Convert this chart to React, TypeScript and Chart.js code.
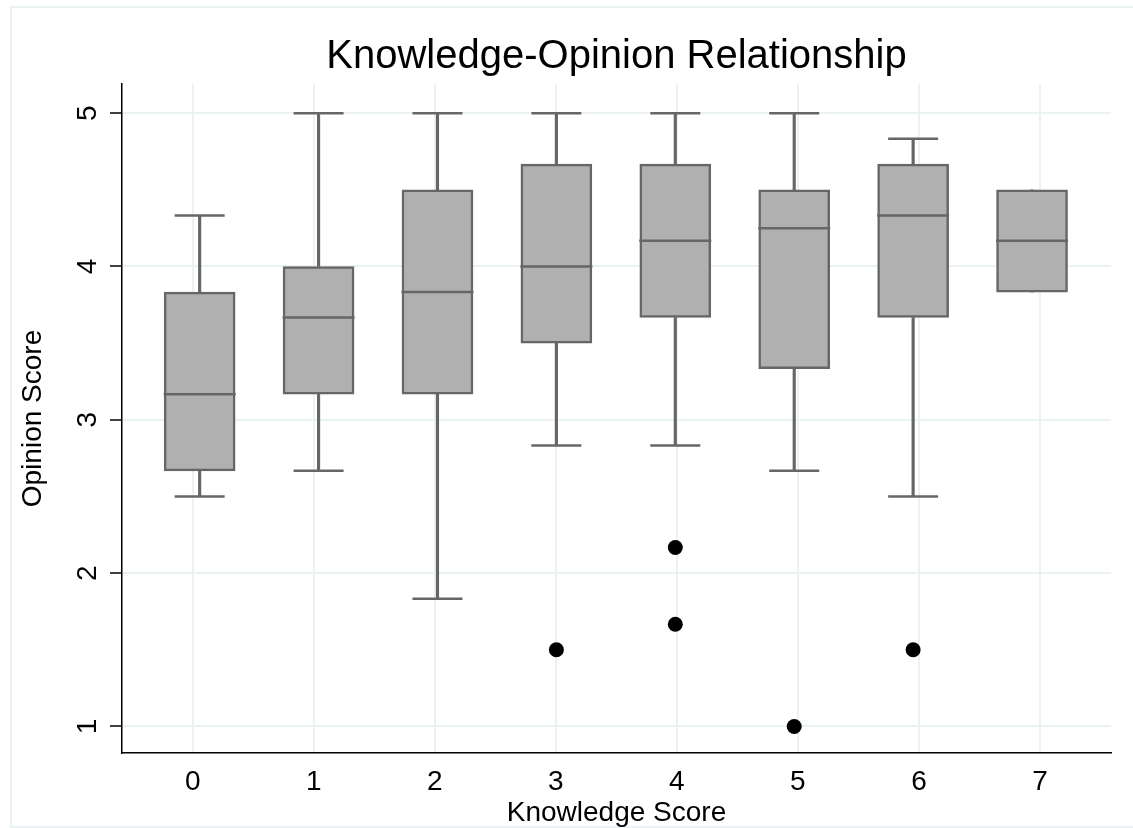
import React, { useEffect, useRef } from "react";
import { Chart, registerables } from "chart.js";

Chart.register(...registerables);

// ---- data ----
const categories = [0, 1, 2, 3, 4, 5, 6, 7];
const xTickValues = [0, 1, 2, 3, 4, 5, 6, 7];
const yTickValues = [1, 2, 3, 4, 5];
const whiskerLow = [2.5, 2.667, 1.833, 2.833, 2.833, 2.667, 2.5, 3.833];
const q1 = [2.667, 3.167, 3.167, 3.5, 3.667, 3.333, 3.667, 3.833];
const median = [3.167, 3.667, 3.833, 4.0, 4.167, 4.25, 4.333, 4.167];
const q3 = [3.833, 4.0, 4.5, 4.667, 4.667, 4.5, 4.667, 4.5];
const whiskerHigh = [4.333, 5, 5, 5, 5, 5, 4.833, 4.5];
const outlierGroup = [3, 4, 4, 5, 6];
const outlierValue = [1.5, 2.167, 1.667, 1.0, 1.5];

const FONT = "'Liberation Sans', Arial, Helvetica, sans-serif";
const GRID = "#eaf2f3";
const BOX_LINE = "#666666";
const BOX_FILL = "#b0b0b0";

export default function App() {
  const ref = useRef<HTMLCanvasElement | null>(null);

  useEffect(() => {
    if (!ref.current) return;
    const caps: { x: number; y: number }[] = [];
    categories.forEach((c, i) => {
      if (whiskerLow[i] !== q1[i]) caps.push({ x: i, y: whiskerLow[i] });
      if (whiskerHigh[i] !== q3[i]) caps.push({ x: i, y: whiskerHigh[i] });
    });
    const chart = new Chart(ref.current, {
      type: "bar",
      data: {
        datasets: [
          {
            type: "scatter",
            xAxisID: "xb",
            yAxisID: "y",
            data: outlierGroup.map((g, i) => ({ x: g, y: outlierValue[i] })),
            pointRadius: 7.5,
            pointBackgroundColor: "#000",
            pointBorderColor: "#000",
            pointBorderWidth: 0,
          } as any,
          {
            type: "scatter",
            xAxisID: "xb",
            yAxisID: "y",
            data: categories.map((c, i) => ({ x: i, y: median[i] })),
            pointStyle: "line",
            pointRadius: 36,
            pointBorderColor: BOX_LINE,
            pointBorderWidth: 2.5,
          } as any,
          {
            type: "scatter",
            xAxisID: "xb",
            yAxisID: "y",
            data: caps,
            pointStyle: "line",
            pointRadius: 25,
            pointBorderColor: BOX_LINE,
            pointBorderWidth: 2.5,
          } as any,
          {
            type: "bar",
            xAxisID: "xb",
            yAxisID: "y",
            data: categories.map((c, i) => ({ x: i, y: [q1[i], q3[i]] })),
            backgroundColor: BOX_FILL,
            borderColor: BOX_LINE,
            borderWidth: 2.5,
            borderSkipped: false,
            barThickness: 71,
            grouped: false,
          } as any,
          {
            type: "bar",
            xAxisID: "xb",
            yAxisID: "y",
            data: categories.map((c, i) => ({ x: i, y: [q3[i], whiskerHigh[i]] })),
            backgroundColor: BOX_LINE,
            borderWidth: 0,
            barThickness: 2.5,
            grouped: false,
          } as any,
          {
            type: "bar",
            xAxisID: "xb",
            yAxisID: "y",
            data: categories.map((c, i) => ({ x: i, y: [whiskerLow[i], q1[i]] })),
            backgroundColor: BOX_LINE,
            borderWidth: 0,
            barThickness: 2.5,
            grouped: false,
          } as any,
        ],
      },
      options: {
        animation: false,
        responsive: false,
        maintainAspectRatio: false,
        events: [],
        layout: { autoPadding: false, padding: { left: 0, right: 22, top: 0, bottom: 0 } },
        plugins: {
          legend: { display: false },
          tooltip: { enabled: false },
          title: {
            display: true,
            fullSize: false,
            text: "Knowledge-Opinion Relationship",
            color: "#000",
            font: { family: FONT, size: 40, weight: "normal", lineHeight: 1.1 },
            padding: { top: 35, bottom: 5 },
          },
        },
        scales: {
          x: {
            type: "linear",
            position: "bottom",
            min: -0.584,
            max: 7.587,
            offset: false,
            afterBuildTicks: (s: any) => {
              s.ticks = xTickValues.map((v) => ({ value: v }));
            },
            afterFit: (s: any) => {
              s.height = 75;
              s.paddingLeft = 0;
              s.paddingRight = 0;
            },
            ticks: {
              color: "#000",
              font: { family: FONT, size: 28, lineHeight: 1.2 },
              padding: 12,
              maxRotation: 0,
              minRotation: 0,
              autoSkip: false,
              callback: (v: any) => String(v),
            },
            grid: { color: GRID, lineWidth: 2, drawTicks: false, offset: false },
            border: { color: "#000", width: 1.5 },
            title: {
              display: true,
              text: "Knowledge Score",
              color: "#000",
              font: { family: FONT, size: 28, lineHeight: 1 },
              padding: { top: 0, bottom: 1 },
            },
          },
          xb: {
            type: "linear",
            display: false,
            min: -0.653,
            max: 7.664,
            offset: false,
            grid: { offset: false },
            afterFit: (s: any) => {
              s.paddingLeft = 0;
              s.paddingRight = 0;
            },
          },
          y: {
            type: "linear",
            position: "left",
            min: 0.827,
            max: 5.19,
            beginAtZero: false,
            afterBuildTicks: (s: any) => {
              s.ticks = yTickValues.map((v) => ({ value: v }));
            },
            afterFit: (s: any) => {
              s.width = 122;
              s.paddingTop = 0;
              s.paddingBottom = 0;
            },
            ticks: {
              color: "#000",
              font: { family: FONT, size: 28, lineHeight: 1.2 },
              padding: 14,
              minRotation: 90,
              maxRotation: 90,
              crossAlign: "center",
              callback: (v: any) => String(v),
            },
            grid: { color: GRID, lineWidth: 2, tickColor: "#000", tickLength: 12, tickWidth: 1.5 },
            border: { color: "#000", width: 1.5 },
            title: {
              display: true,
              text: "Opinion Score",
              color: "#000",
              font: { family: FONT, size: 28, lineHeight: 1 },
              padding: { top: 19, bottom: 0 },
            },
          },
        },
      } as any,
    });
    return () => chart.destroy();
  }, []);

  const line = (style: React.CSSProperties) => (
    <div style={{ position: "absolute", background: GRID, ...style }} />
  );

  return (
    <div style={{ position: "fixed", left: 0, top: 0, width: 1133, height: 828, background: "#fff", overflow: "hidden" }}>
      {line({ left: 10, top: 6, width: 1123, height: 2 })}
      {line({ left: 10, top: 6, width: 2, height: 822 })}
      {line({ left: 10, top: 826, width: 1123, height: 2 })}
      <canvas ref={ref} width={1133} height={828} style={{ position: "absolute", left: 0, top: 0, width: 1133, height: 828 }} />
    </div>
  );
}
